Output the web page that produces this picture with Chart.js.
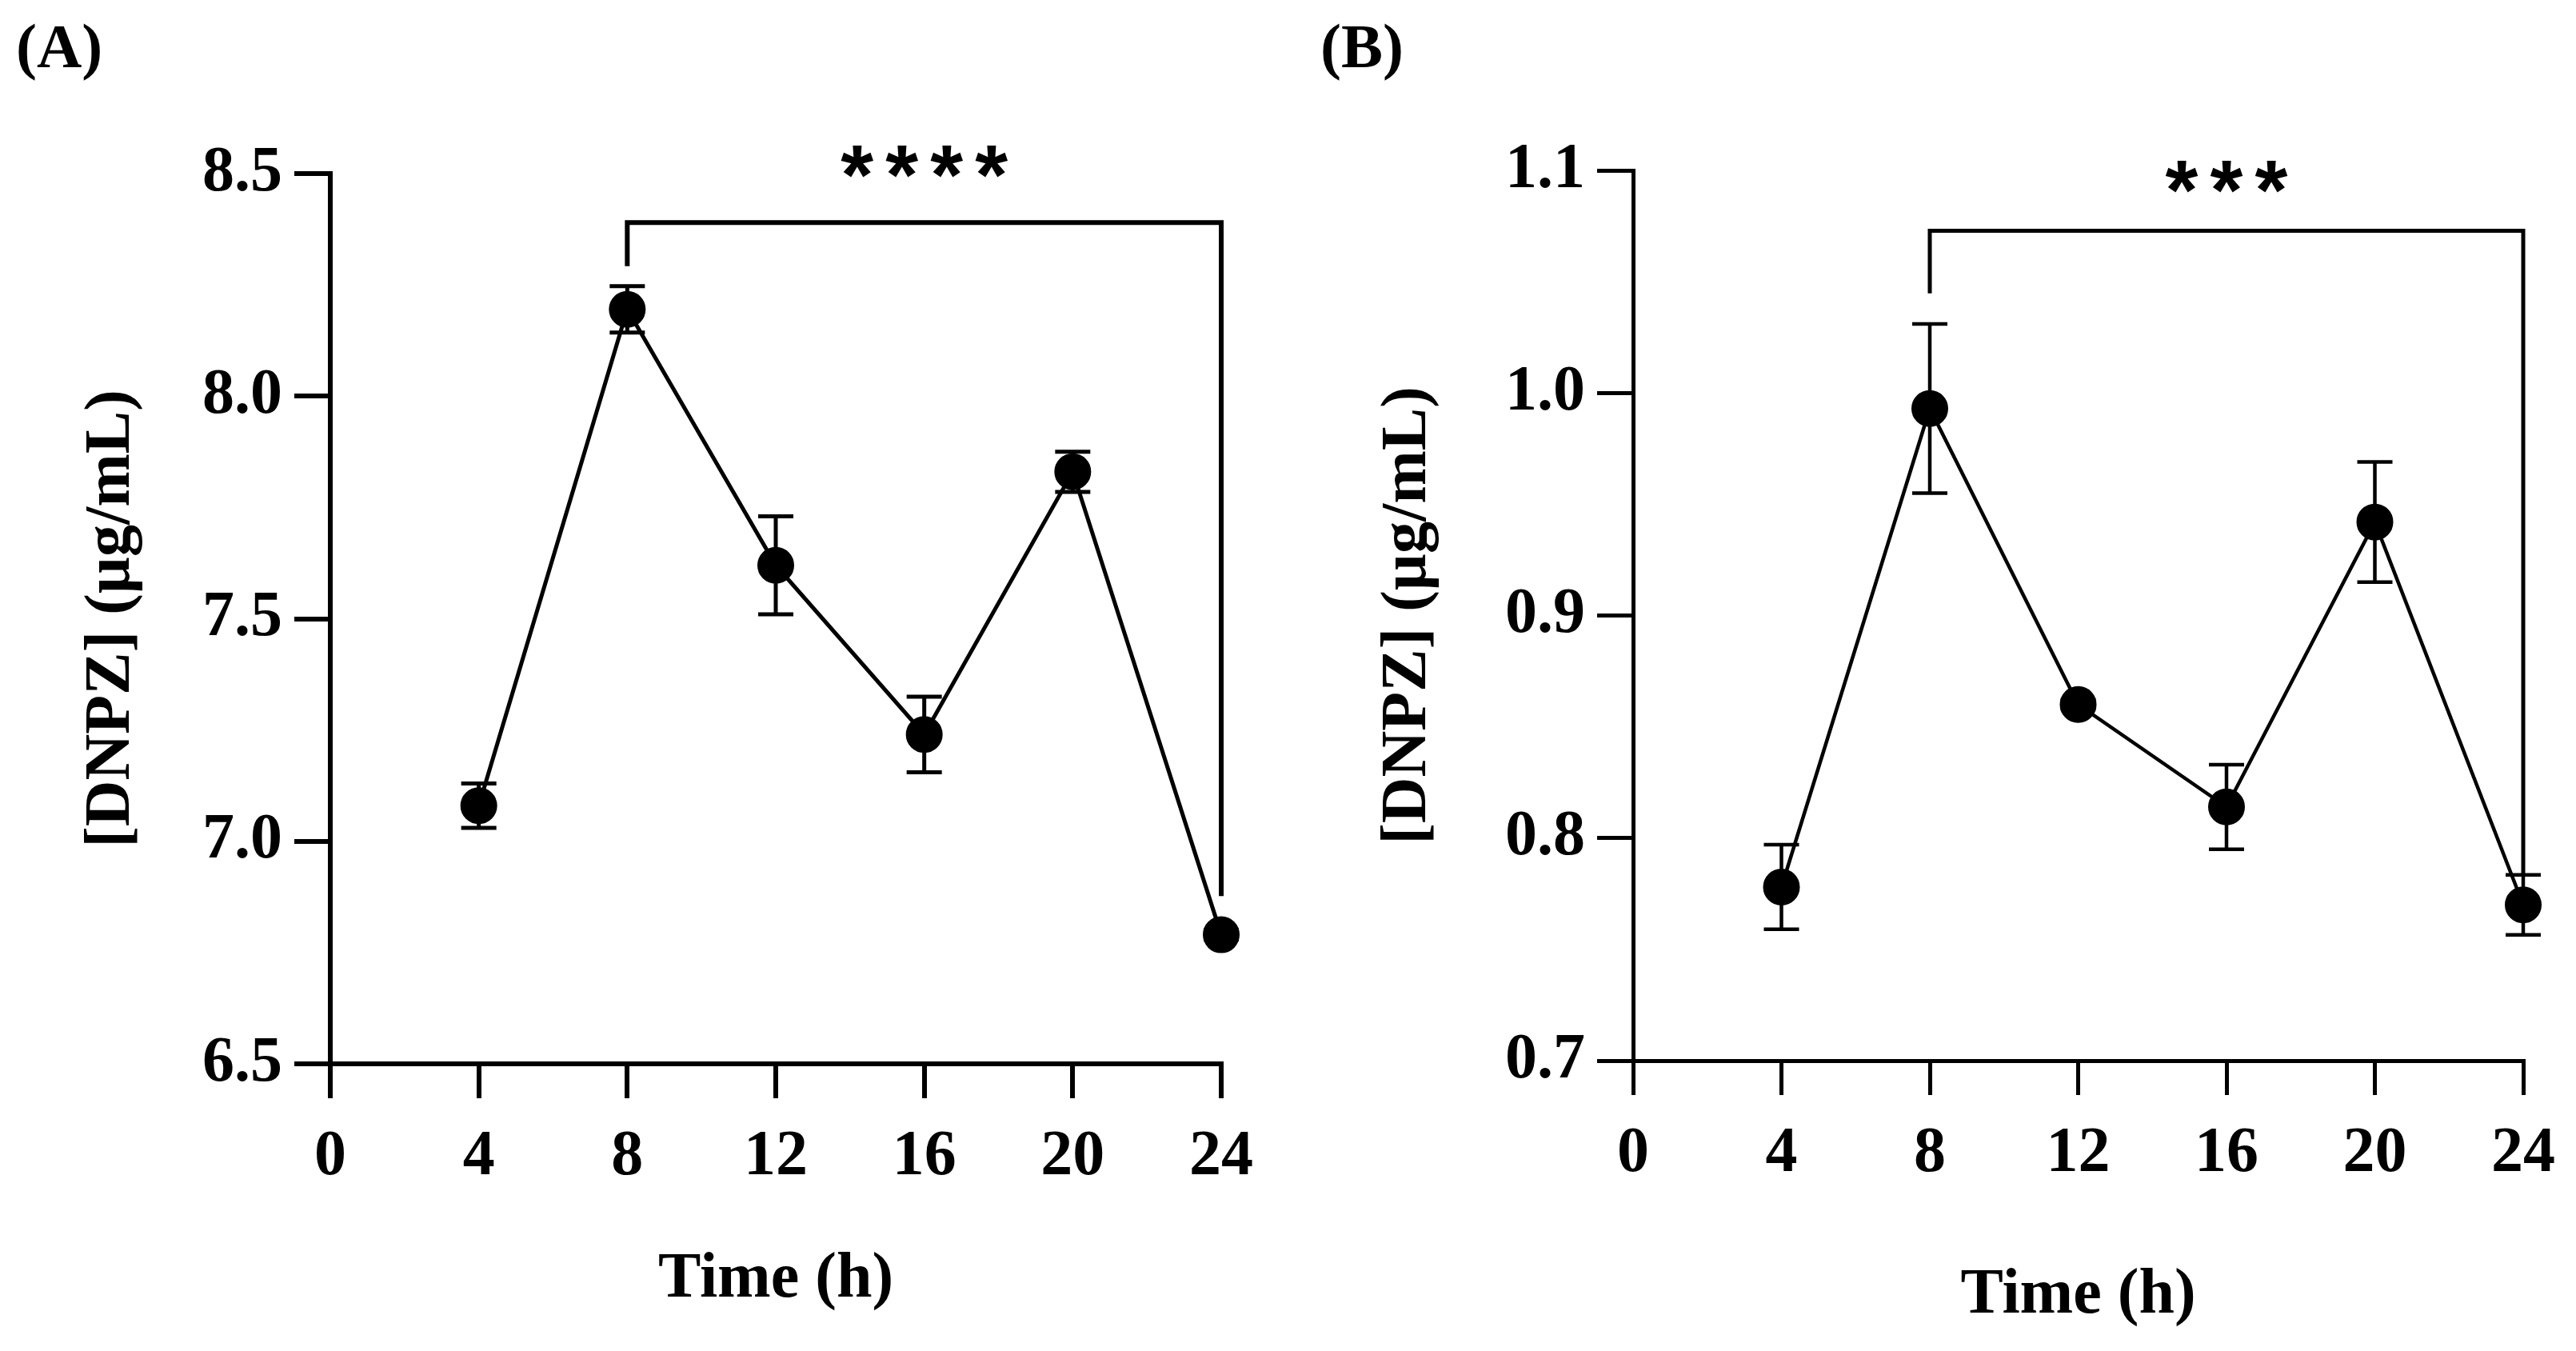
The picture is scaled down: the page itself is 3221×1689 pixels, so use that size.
<!DOCTYPE html>
<html>
<head>
<meta charset="utf-8">
<script src="https://cdn.jsdelivr.net/npm/chart.js@4.4.1/dist/chart.umd.min.js"></script>
<style>
  html, body { margin: 0; padding: 0; background: #fff; }
  #wrap { position: relative; width: 3221px; height: 1689px; overflow: hidden; }
  .panel { position: absolute; top: 0; height: 1689px; }
  #pA { left: 0; width: 1610px; }
  #pB { left: 1610px; width: 1611px; }
  .tag { position: absolute; top: 19px; font: bold 78px "Liberation Serif", serif; line-height: 1; color: #000; }
</style>
</head>
<body>
<div id="wrap">
  <div class="tag" style="left:20px">(A)</div>
  <div class="tag" style="left:1651px">(B)</div>
  <div class="panel" id="pA"><canvas id="chartA"></canvas></div>
  <div class="panel" id="pB"><canvas id="chartB"></canvas></div>
</div>
<script>
const hours = [4, 8, 12, 16, 20, 24]
const xTicks = [0, 4, 8, 12, 16, 20, 24]

const meanA = [7.08, 8.195, 7.62, 7.24, 7.83, 6.79]
const sdA = [0.05, 0.052, 0.11, 0.085, 0.045, 0.01]
const yTicksA = [6.5, 7.0, 7.5, 8.0, 8.5]

const meanB = [0.778, 0.993, 0.860, 0.814, 0.942, 0.770]
const sdB = [0.019, 0.038, 0.002, 0.019, 0.027, 0.0135]
const yTicksB = [0.7, 0.8, 0.9, 1.0, 1.1]

// significance bracket: x from, x to, top, left leg end, right leg end
const bracketA = [8, 24, 8.39, 8.292, 6.877]
const bracketB = [8, 24, 1.0729, 1.0447, 0.784]
const starsA = '****'
const starsB = '***'
const starsAtA = [16, 8.527]
const starsAtB = [16, 1.097]

const serif = '"Liberation Serif", serif'

function extras(means, sd, bracket, stars, starsAt, lw) {
    return {
        id: 'extras',
        beforeDatasetsDraw(chart) {
            const { ctx, scales: { x, y } } = chart
            ctx.save()
            ctx.strokeStyle = '#000'
            ctx.lineWidth = lw.err
            means.forEach((m, i) => {
                const px = x.getPixelForValue(hours[i])
                const top = y.getPixelForValue(m + sd[i])
                const bot = y.getPixelForValue(m - sd[i])
                ctx.beginPath()
                ctx.moveTo(px, top); ctx.lineTo(px, bot)
                ctx.moveTo(px - 22, top); ctx.lineTo(px + 22, top)
                ctx.moveTo(px - 22, bot); ctx.lineTo(px + 22, bot)
                ctx.stroke()
            })
            ctx.restore()
        },
        afterDatasetsDraw(chart) {
            const { ctx, scales: { x, y } } = chart
            ctx.save()
            ctx.strokeStyle = '#000'
            ctx.lineWidth = lw.bracket
            ctx.lineJoin = 'miter'
            const x1 = x.getPixelForValue(bracket[0])
            const x2 = x.getPixelForValue(bracket[1])
            const yt = y.getPixelForValue(bracket[2])
            ctx.beginPath()
            ctx.moveTo(x1, y.getPixelForValue(bracket[3]))
            ctx.lineTo(x1, yt)
            ctx.lineTo(x2, yt)
            ctx.lineTo(x2, y.getPixelForValue(bracket[4]))
            ctx.stroke()

            // stars, one glyph at a time so they keep the wide spacing
            ctx.fillStyle = '#000'
            ctx.font = 'bold 105px "Liberation Sans", sans-serif'
            ctx.textAlign = 'center'
            ctx.textBaseline = 'alphabetic'
            const mt = ctx.measureText('*')
            const cy = y.getPixelForValue(starsAt[1])
            const cx = x.getPixelForValue(starsAt[0])
            const pitch = 56
            const n = stars.length
            for (let i = 0; i < n; i++) {
                ctx.fillText('*', cx + (i - (n - 1) / 2) * pitch,
                    cy + (mt.actualBoundingBoxAscent - mt.actualBoundingBoxDescent) / 2)
            }
            ctx.restore()
        }
    }
}

function makeChart(canvas, means, sd, yTicks, box, lw, plugin) {
    const tickFont = { family: serif, weight: 'bold', size: 80 }
    return new Chart(canvas, {
        type: 'line',
        data: {
            datasets: [{
                data: hours.map((h, i) => ({ x: h, y: means[i] })),
                borderColor: '#000',
                borderWidth: lw.line,
                pointRadius: 22,
                pointBorderWidth: 2,
                pointBackgroundColor: '#000',
                pointBorderColor: '#000',
                tension: 0,
                clip: false
            }]
        },
        options: {
            responsive: true,
            maintainAspectRatio: false,
            animation: false,
            devicePixelRatio: 1,
            layout: { padding: { left: 0, top: box.top, right: box.right, bottom: 0 } },
            plugins: { legend: { display: false }, tooltip: { enabled: false } },
            scales: {
                x: {
                    type: 'linear',
                    min: 0,
                    max: 24,
                    afterBuildTicks: s => { s.ticks = xTicks.map(v => ({ value: v })) },
                    afterFit: s => { s.height = box.xh },
                    ticks: { color: '#000', font: tickFont, padding: 26, maxRotation: 0 },
                    grid: { drawOnChartArea: false, drawTicks: true, tickLength: 43, color: '#000', lineWidth: lw.axis, tickWidth: lw.axis },
                    border: { display: true, color: '#000', width: lw.axis },
                    title: { display: true, text: 'Time (h)', color: '#000', font: { family: serif, weight: 'bold', size: 80 }, padding: { top: 0, bottom: box.xtitle } }
                },
                y: {
                    type: 'linear',
                    min: yTicks[0],
                    max: yTicks[yTicks.length - 1],
                    afterBuildTicks: s => { s.ticks = yTicks.map(v => ({ value: v })) },
                    afterFit: s => { s.width = box.yw },
                    ticks: { color: '#000', font: tickFont, padding: 15, callback: v => v.toFixed(1) },
                    grid: { drawOnChartArea: false, drawTicks: true, tickLength: 45, color: '#000', lineWidth: lw.axis, tickWidth: lw.axis },
                    border: { display: true, color: '#000', width: lw.axis },
                    title: { display: true, text: '[DNPZ] (µg/mL)', color: '#000', font: { family: serif, weight: 'bold', size: 80 }, padding: { top: box.ytitle, bottom: 0 } }
                }
            }
        },
        plugins: [plugin]
    })
}

const lwA = { axis: 6, line: 5, err: 5, bracket: 6 }
const lwB = { axis: 5, line: 4.5, err: 4.5, bracket: 5 }

makeChart(document.getElementById('chartA'), meanA, sdA, yTicksA,
    { top: 217, right: 83, xh: 359, yw: 413, xtitle: 41, ytitle: 92 }, lwA,
    extras(meanA, sdA, bracketA, starsA, starsAtA, lwA))

makeChart(document.getElementById('chartB'), meanB, sdB, yTicksB,
    { top: 213, right: 65, xh: 363, yw: 432, xtitle: 21, ytitle: 103 }, lwB,
    extras(meanB, sdB, bracketB, starsB, starsAtB, lwB))
</script>
</body>
</html>
